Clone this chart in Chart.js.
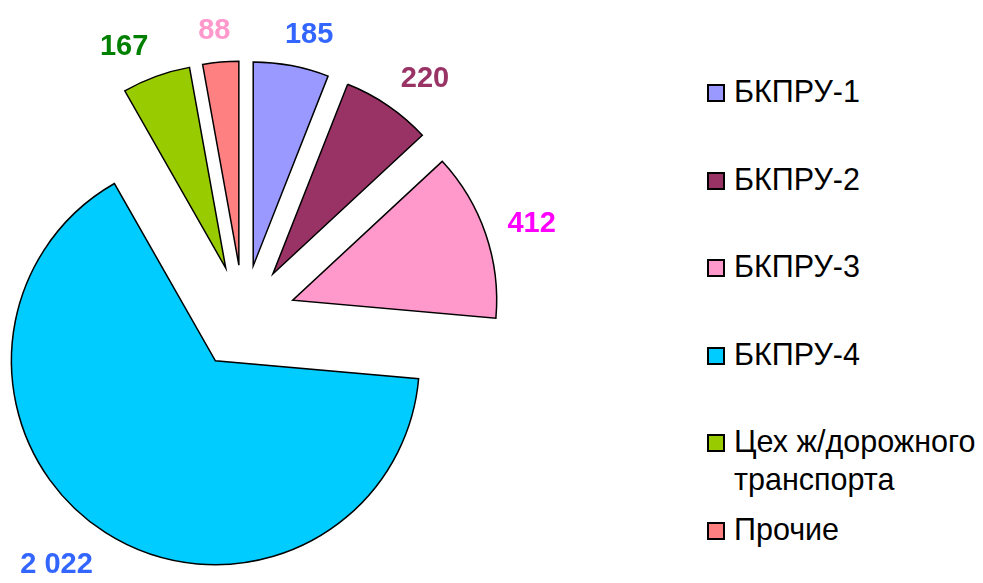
<!DOCTYPE html>
<html>
<head>
<meta charset="utf-8">
<script src="https://cdn.jsdelivr.net/npm/chart.js@4"></script>
<style>
  body { margin: 0; background: #fff; width: 983px; height: 583px; overflow: hidden; position: relative; }
  #pie { position: absolute; left: 0; top: 0; }
  #legend { position: absolute; left: 707px; top: 0; font-family: "Liberation Sans", Arial, sans-serif; font-size: 30.5px; line-height: 38px; color: #000; }
  .item { position: absolute; left: 0; white-space: nowrap; }
  .box { position: absolute; left: 0; width: 18px; height: 18px; box-sizing: border-box; border: 2px solid #000; }
  .txt { position: absolute; left: 27px; top: 0; }
</style>
</head>
<body>
<canvas id="pie" width="700" height="583"></canvas>
<div id="legend"></div>
<script>
const categories = ['БКПРУ-1', 'БКПРУ-2', 'БКПРУ-3', 'БКПРУ-4', 'Цех ж/дорожного транспорта', 'Прочие'];
const legendLines = [['БКПРУ-1'], ['БКПРУ-2'], ['БКПРУ-3'], ['БКПРУ-4'], ['Цех ж/дорожного', 'транспорта'], ['Прочие']];
const values = [185, 220, 412, 2022, 167, 88];
const sliceColors = ['#9999FF', '#993366', '#FF99CC', '#00CCFF', '#99CC00', '#FF8080'];
const labelColors = ['#3366FF', '#993366', '#FF00FF', '#3366FF', '#008000', '#FF99CC'];

const EXPLODE = 52;      // distance every slice is pulled out
const LABEL_GAP = 23;
const LABEL_FONT = 29;

function fmt(v) {
  return String(v).replace(/\B(?=(\d{3})+(?!\d))/g, ' ');
}

function clamp1(v) {
  return Math.max(-1, Math.min(1, v));
}

// slices are drawn here so each one can be pulled out without chart.js growing the radius
const explodePlugin = {
  id: 'explode',
  beforeDatasetDraw(chart, args) {
    const ctx = chart.ctx;
    args.meta.data.forEach(arc => {
      const p = arc.getProps(['startAngle', 'endAngle'], true);
      const mid = (p.startAngle + p.endAngle) / 2;
      ctx.save();
      ctx.translate(Math.cos(mid) * EXPLODE, Math.sin(mid) * EXPLODE);
      arc.draw(ctx);
      ctx.restore();
    });
    return false;
  }
};

// value labels just outside the end of each slice
const labelPlugin = {
  id: 'valueLabels',
  afterDatasetsDraw(chart) {
    const ctx = chart.ctx;
    const meta = chart.getDatasetMeta(0);
    ctx.save();
    ctx.font = 'bold ' + LABEL_FONT + 'px "Liberation Sans", Arial, sans-serif';
    ctx.textAlign = 'center';
    ctx.textBaseline = 'alphabetic';
    const capH = LABEL_FONT * 0.716;
    meta.data.forEach((arc, i) => {
      const p = arc.getProps(['x', 'y', 'startAngle', 'endAngle', 'outerRadius'], true);
      const mid = (p.startAngle + p.endAngle) / 2;
      const ux = Math.cos(mid), uy = Math.sin(mid);
      const text = fmt(values[i]);
      const w = ctx.measureText(text).width;
      const d = EXPLODE + p.outerRadius + LABEL_GAP;
      const cx = p.x + ux * d + clamp1(ux * 3) * w / 2;
      const cy = p.y + uy * d + clamp1(uy * 1.5) * capH / 2;
      ctx.fillStyle = labelColors[i];
      ctx.fillText(text, cx, cy + capH / 2);
    });
    ctx.restore();
  }
};

new Chart(document.getElementById('pie'), {
  type: 'pie',
  data: {
    labels: categories,
    datasets: [{
      data: values,
      backgroundColor: sliceColors,
      borderColor: '#000',
      borderWidth: 1.5,
      borderJoinStyle: 'miter',
      clip: false
    }]
  },
  options: {
    responsive: false,
    animation: false,
    radius: 204,
    rotation: 0,
    layout: { padding: { top: 51, right: 213 } },
    plugins: {
      legend: { display: false },
      tooltip: { enabled: false }
    }
  },
  plugins: [explodePlugin, labelPlugin]
});

// legend on the right
const legend = document.getElementById('legend');
legendLines.forEach((lines, i) => {
  const capCenter = 91 + i * 87.5;
  const item = document.createElement('div');
  item.className = 'item';
  item.style.top = (capCenter - 19) + 'px';
  const box = document.createElement('span');
  box.className = 'box';
  box.style.background = sliceColors[i];
  box.style.top = '12px';
  const txt = document.createElement('div');
  txt.className = 'txt';
  txt.innerHTML = lines.join('<br>');
  item.appendChild(box);
  item.appendChild(txt);
  legend.appendChild(item);
});
</script>
</body>
</html>
